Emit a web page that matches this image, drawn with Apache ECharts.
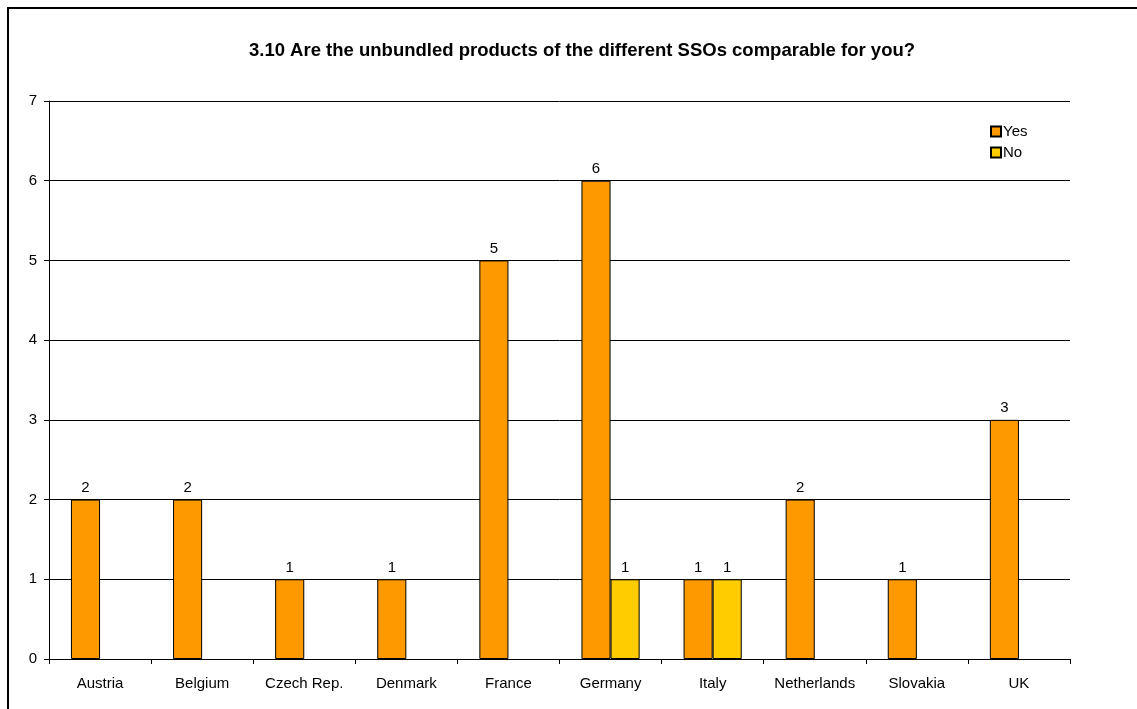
<!DOCTYPE html>
<html>
<head>
<meta charset="utf-8">
<script src="https://cdn.jsdelivr.net/npm/echarts@6/dist/echarts.min.js"></script>
<style>
  html, body { margin: 0; padding: 0; background: #fff; }
  #chart { width: 1137px; height: 709px; }
</style>
</head>
<body>
<div id="chart"></div>
<script>
// Countries along the category axis
const countries = ['Austria', 'Belgium', 'Czech Rep.', 'Denmark', 'France', 'Germany', 'Italy', 'Netherlands', 'Slovakia', 'UK'];
// Number of answers per country
const yesValues = [2, 2, 1, 1, 5, 6, 1, 2, 1, 3];
const noValues = [null, null, null, null, null, 1, 1, null, null, null];
const yTicks = [0, 1, 2, 3, 4, 5, 6, 7];

const font = 'Arial, "Liberation Sans", sans-serif';
const chart = echarts.init(document.getElementById('chart'), null, { renderer: 'canvas' });

const labelCfg = { show: true, position: 'top', color: '#000', fontFamily: font, fontSize: 15, distance: 4 };

chart.setOption({
  animation: false,
  backgroundColor: '#fff',
  title: {
    text: '3.10 Are the unbundled products of the different SSOs comparable for you?',
    left: 577, top: 36, textAlign: 'center',
    textStyle: { fontFamily: font, fontSize: 18.5, fontWeight: 'bold', color: '#000' }
  },
  graphic: [{
    type: 'rect',
    shape: { x: 8, y: 8, width: 1140, height: 720 },
    style: { fill: 'none', stroke: '#000', lineWidth: 2 },
    silent: true
  }],
  legend: {
    orient: 'vertical', left: 985, top: 119,
    itemWidth: 10, itemHeight: 10, itemGap: 6,
    icon: 'rect',
    textStyle: { fontFamily: font, fontSize: 15, color: '#000', padding: [0, 0, 0, -3] },
    data: ['Yes', 'No']
  },
  grid: { left: 49, right: 67, top: 101, bottom: 50 },
  xAxis: {
    type: 'category', data: countries,
    axisLine: { lineStyle: { color: '#000', width: 1 } },
    axisTick: { show: true, length: 5, interval: 0, lineStyle: { color: '#000' } },
    axisLabel: { color: '#000', fontFamily: font, fontSize: 15, margin: 17, interval: 0 }
  },
  yAxis: {
    type: 'value', min: yTicks[0], max: yTicks[yTicks.length - 1], interval: 1,
    axisLine: { show: true, lineStyle: { color: '#000', width: 1 } },
    axisTick: { show: true, length: 5, lineStyle: { color: '#000' } },
    axisLabel: { color: '#000', fontFamily: font, fontSize: 15, margin: 12 },
    splitLine: { show: true, lineStyle: { color: '#000', width: 1 } }
  },
  series: [
    {
      name: 'Yes', type: 'bar', data: yesValues,
      barGap: '0%', barCategoryGap: '43%',
      itemStyle: { color: '#FF9900', borderColor: '#000', borderWidth: 1 },
      label: labelCfg
    },
    {
      name: 'No', type: 'bar', data: noValues,
      itemStyle: { color: '#FFCC00', borderColor: '#000', borderWidth: 1 },
      label: labelCfg
    }
  ]
});
</script>
</body>
</html>
